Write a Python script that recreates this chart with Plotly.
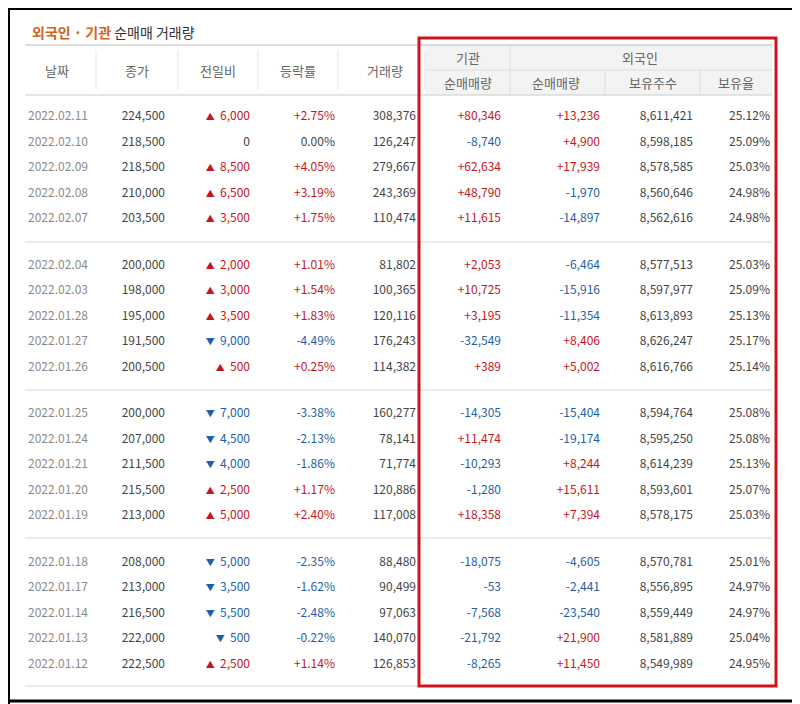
import plotly.graph_objects as go

dates = ["2022.02.11","2022.02.10","2022.02.09","2022.02.08","2022.02.07",
         "2022.02.04","2022.02.03","2022.01.28","2022.01.27","2022.01.26",
         "2022.01.25","2022.01.24","2022.01.21","2022.01.20","2022.01.19",
         "2022.01.18","2022.01.17","2022.01.14","2022.01.13","2022.01.12"]
close = [224500,218500,218500,210000,203500,200000,198000,195000,191500,200500,
         200000,207000,211500,215500,213000,208000,213000,216500,222000,222500]
change = [6000,0,8500,6500,3500,2000,3000,3500,-9000,500,
          -7000,-4500,-4000,2500,5000,-5000,-3500,-5500,-500,2500]
pct = [2.75,0.00,4.05,3.19,1.75,1.01,1.54,1.83,-4.49,0.25,
       -3.38,-2.13,-1.86,1.17,2.40,-2.35,-1.62,-2.48,-0.22,1.14]
volume = [308376,126247,279667,243369,110474,81802,100365,120116,176243,114382,
          160277,78141,71774,120886,117008,88480,90499,97063,140070,126853]
inst_net = [80346,-8740,62634,48790,11615,2053,10725,3195,-32549,389,
            -14305,11474,-10293,-1280,18358,-18075,-53,-7568,-21792,-8265]
frgn_net = [13236,4900,17939,-1970,-14897,-6464,-15916,-11354,8406,5002,
            -15404,-19174,8244,15611,7394,-4605,-2441,-23540,21900,11450]
frgn_hold = [8611421,8598185,8578585,8560646,8562616,8577513,8597977,8613893,8626247,8616766,
             8594764,8595250,8614239,8593601,8578175,8570781,8556895,8559449,8581889,8549989]
frgn_ratio = [25.12,25.09,25.03,24.98,24.98,25.03,25.09,25.13,25.17,25.14,
              25.08,25.08,25.13,25.07,25.03,25.01,24.97,24.97,25.04,24.95]

RED, BLUE, DARK, GRAY = "#c4161c", "#1f5fa8", "#444444", "#8a8a8a"
FONT = "Noto Sans CJK KR"
OFF = 8  # page body margin

def row_y(i):
    return 117 + (i // 5) * 148.5 + (i % 5) * 25.5

def sc(v):
    return RED if v > 0 else (BLUE if v < 0 else DARK)

def signed(v):
    return f"+{v:,}" if v > 0 else f"{v:,}"

def arrow(c):
    if c == 0:
        return "0"
    g = "▲" if c > 0 else "▼"
    return f"<span style='font-size:9px'>{g}</span>  {abs(c):,}"

ys = [row_y(i) for i in range(len(dates))]
fig = go.Figure()

def col(x, texts, colors, pos="middle left"):
    fig.add_trace(go.Scatter(x=[x]*len(texts), y=ys, mode="text", text=texts,
                             textposition=pos, textfont=dict(family=FONT, size=12, color=colors),
                             hoverinfo="skip", showlegend=False))

col(58, dates, GRAY, "middle center")
col(165, [f"{v:,}" for v in close], DARK)
col(250, [arrow(c) for c in change], [sc(c) for c in change])
col(335, [("+" if p > 0 else "") + f"{p:.2f}%" for p in pct], [sc(p) for p in pct])
col(416, [f"{v:,}" for v in volume], DARK)
col(501, [signed(v) for v in inst_net], [sc(v) for v in inst_net])
col(600, [signed(v) for v in frgn_net], [sc(v) for v in frgn_net])
col(693, [f"{v:,}" for v in frgn_hold], DARK)
col(770, [f"{v:.2f}%" for v in frgn_ratio], DARK)

shapes = []
shapes.append(dict(type="rect", x0=425, x1=772, y0=45, y1=95, fillcolor="#f3f3f3", line_width=0, layer="below"))
for y, c in [(45, "#bbbbbb"), (95, "#cccccc")]:
    shapes.append(dict(type="line", x0=25, x1=772, y0=y, y1=y, line=dict(color=c, width=1)))
shapes.append(dict(type="line", x0=425, x1=772, y0=70, y1=70, line=dict(color="#dddddd", width=1)))
for x in [96, 178, 258, 338, 425]:
    shapes.append(dict(type="line", x0=x, x1=x, y0=50, y1=90, line=dict(color="#e4e4e4", width=1)))
shapes.append(dict(type="line", x0=510, x1=510, y0=45, y1=95, line=dict(color="#dddddd", width=1)))
for x in [605, 700]:
    shapes.append(dict(type="line", x0=x, x1=x, y0=70, y1=95, line=dict(color="#dddddd", width=1)))
for y in [242, 390, 538, 686]:
    shapes.append(dict(type="line", x0=25, x1=772, y0=y, y1=y, line=dict(color="#d5d5d5", width=1)))
shapes.append(dict(type="rect", x0=419, x1=776, y0=38, y1=686, line=dict(color="#d0121b", width=3)))
shapes.append(dict(type="line", x0=797, x1=797, y0=OFF, y1=704, line=dict(color="#000000", width=3)))
shapes.append(dict(type="line", x0=OFF, x1=800, y0=701, y1=701, line=dict(color="#000000", width=3)))
shapes.append(dict(type="line", x0=OFF+1, x1=OFF+1, y0=OFF, y1=704, line=dict(color="#000000", width=2)))
shapes.append(dict(type="line", x0=OFF, x1=800, y0=OFF+1, y1=OFF+1, line=dict(color="#000000", width=2)))

ann = []
def a(x, y, t, color=DARK, size=13, xanchor="center"):
    ann.append(dict(x=x, y=y, text=t, showarrow=False, xanchor=xanchor, yanchor="middle",
                    font=dict(family=FONT, size=size, color=color)))
a(30, 32, "<b>외국인 · 기관</b> <span style='color:#333'>순매매 거래량</span>", "#d5601a", 14, "left")
for x, t in [(57, "날짜"), (137, "종가"), (218, "전일비"), (298, "등락률"), (385, "거래량")]:
    a(x, 70, t, "#666666")
a(468, 57, "기관", "#666666"); a(640, 57, "외국인", "#666666")
for x, t in [(468, "순매매량"), (556, "순매매량"), (653, "보유주수"), (736, "보유율")]:
    a(x, 82, t, "#666666")

fig.update_layout(width=800 - OFF, height=704 - OFF, margin=dict(l=0, r=0, t=0, b=0),
                  paper_bgcolor="white", plot_bgcolor="white",
                  xaxis=dict(range=[OFF, 800], visible=False, fixedrange=True),
                  yaxis=dict(range=[704, OFF], visible=False, fixedrange=True),
                  shapes=shapes, annotations=ann)
fig.write_html("out.html")
